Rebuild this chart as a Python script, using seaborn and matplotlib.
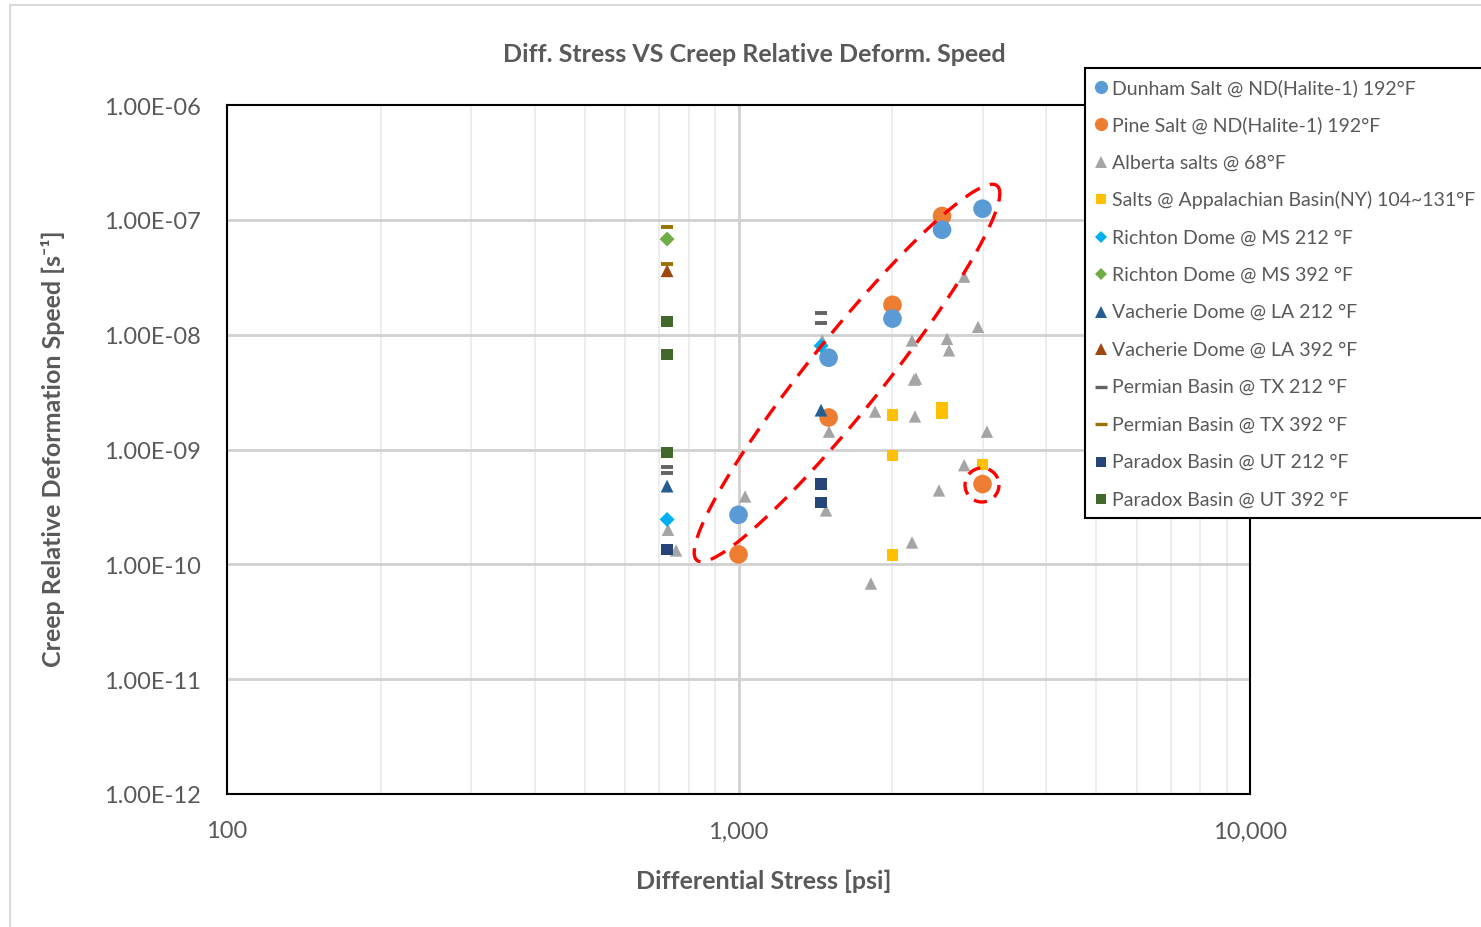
import numpy as np
import matplotlib
matplotlib.use("Agg")
import matplotlib.pyplot as plt
from matplotlib.lines import Line2D
from matplotlib.patches import Rectangle
from matplotlib.ticker import FixedLocator, NullLocator, NullFormatter
import seaborn as sns

# ---------------- data ----------------
dunham_x = [1000, 1500, 2000, 2500, 3000]
dunham_y = [2.7e-10, 6.3e-9, 1.38e-8, 8.2e-8, 1.25e-7]
pine_x = [1000, 1500, 2000, 2500, 3000]
pine_y = [1.22e-10, 1.9e-9, 1.82e-8, 1.08e-7, 5.0e-10]
alberta_x = [728, 755, 1030, 1503, 1483, 1458, 1815, 1849, 2184, 2204, 2223,
             2213, 2184, 2466, 2557, 2580, 2762, 2762, 2940, 3060]
alberta_y = [2.0e-10, 1.32e-10, 3.9e-10, 1.43e-9, 2.95e-10, 8.9e-9, 6.8e-11,
             2.14e-9, 8.9e-9, 4.06e-9, 4.14e-9, 1.94e-9, 1.55e-10, 4.4e-10,
             9.2e-9, 7.3e-9, 3.2e-8, 7.3e-10, 1.17e-8, 1.43e-9]
appal_x = [2000, 2000, 2000, 2500, 2500, 3000]
appal_y = [2.0e-9, 8.9e-10, 1.2e-10, 2.32e-9, 2.06e-9, 7.4e-10]
richton212_x = [725, 1450]
richton212_y = [2.46e-10, 8.0e-9]
richton392_x = [725]
richton392_y = [6.8e-8]
vacherie212_x = [725, 1450]
vacherie212_y = [4.8e-10, 2.2e-9]
vacherie392_x = [725]
vacherie392_y = [3.6e-8]
permian212_x = [725, 725, 1450, 1450]
permian212_y = [7.1e-10, 6.3e-10, 1.55e-8, 1.27e-8]
permian392_x = [725, 725]
permian392_y = [8.7e-8, 4.1e-8]
paradox212_x = [725, 1450, 1450]
paradox212_y = [1.35e-10, 5.0e-10, 3.46e-10]
paradox392_x = [725, 725, 725]
paradox392_y = [1.3e-8, 6.7e-9, 9.4e-10]

series_labels = [
    "Dunham Salt @ ND(Halite-1) 192°F",
    "Pine Salt @ ND(Halite-1) 192°F",
    "Alberta salts @ 68°F",
    "Salts @ Appalachian Basin(NY) 104~131°F",
    "Richton Dome @ MS 212 °F",
    "Richton Dome @ MS 392 °F",
    "Vacherie Dome @ LA 212 °F",
    "Vacherie Dome @ LA 392 °F",
    "Permian Basin @ TX 212 °F",
    "Permian Basin @ TX 392 °F",
    "Paradox Basin @ UT 212 °F",
    "Paradox Basin @ UT 392 °F",
]
y_tick_values = [1e-12, 1e-11, 1e-10, 1e-9, 1e-8, 1e-7, 1e-6]
y_tick_labels = ["1.00E-12", "1.00E-11", "1.00E-10", "1.00E-09",
                 "1.00E-08", "1.00E-07", "1.00E-06"]
x_tick_values = [100, 1000, 10000]
x_tick_labels = ["100", "1,000", "10,000"]

# ---------------- style ----------------
sns.set_style("white")
plt.rcParams["font.family"] = ["Lato", "DejaVu Sans"]
TXT = "#595959"

W, H = 1481, 928
fig = plt.figure(figsize=(W / 100, H / 100), dpi=100)
fig.patch.set_facecolor("white")

def px_box(l, t, r, b):
    return [l / W, 1 - b / H, (r - l) / W, (b - t) / H]

# outer chart border
fig.patches.append(Rectangle((10 / W, -0.01), 1.0, 1 - 6 / H + 0.01,
                             transform=fig.transFigure, facecolor="none",
                             edgecolor="#d9d9d9", linewidth=1.5, zorder=-5))

ax = fig.add_axes(px_box(227, 106, 1250, 795))
ax.set_xscale("log")
ax.set_yscale("log")
ax.set_xlim(100, 10000)
ax.set_ylim(1e-12, 1e-6)

# grid
for v in [200, 300, 400, 500, 600, 700, 800, 900,
          2000, 3000, 4000, 5000, 6000, 7000, 8000, 9000]:
    ax.axvline(v, color="#ececec", lw=1.3, zorder=0.5)
ax.axvline(1000, color="#d0d0d0", lw=2, zorder=0.6)
for v in y_tick_values[1:-1]:
    ax.axhline(v, color="#d0d0d0", lw=2, zorder=0.6)

# ---------------- series ----------------
specs = [
    (pine_x, pine_y, "o", "#ED7D31", 180),
    (dunham_x, dunham_y, "o", "#5B9BD5", 180),
    (alberta_x, alberta_y, "^", "#A5A5A5", 80),
    (appal_x, appal_y, "s", "#FFC000", 70),
    (richton212_x, richton212_y, "D", "#00B0F0", 58),
    (richton392_x, richton392_y, "D", "#70AD47", 58),
    (vacherie212_x, vacherie212_y, "^", "#255E91", 85),
    (vacherie392_x, vacherie392_y, "^", "#9E480E", 85),
    (paradox212_x, paradox212_y, "s", "#264478", 70),
    (paradox392_x, paradox392_y, "s", "#43682B", 70),
]
for xs, ys, m, c, s in specs:
    sns.scatterplot(x=xs, y=ys, marker=m, color=c, s=s, edgecolor="none",
                    linewidth=0, ax=ax, zorder=3, legend=False)
for xs, ys, c in [(permian212_x, permian212_y, "#636363"),
                  (permian392_x, permian392_y, "#997300")]:
    sns.scatterplot(x=xs, y=ys, marker="_", color=c, s=70, linewidth=2.8,
                    ax=ax, zorder=3, legend=False)

# ---------------- axes ----------------
for sp in ax.spines.values():
    sp.set_color("black")
    sp.set_linewidth(1.5)
    sp.set_visible(True)
ax.xaxis.set_major_locator(FixedLocator(x_tick_values))
ax.xaxis.set_minor_locator(NullLocator())
ax.xaxis.set_minor_formatter(NullFormatter())
ax.set_xticklabels(x_tick_labels)
ax.yaxis.set_major_locator(FixedLocator(y_tick_values))
ax.yaxis.set_minor_locator(NullLocator())
ax.yaxis.set_minor_formatter(NullFormatter())
ax.set_yticklabels(y_tick_labels)
ax.tick_params(axis="x", which="major", direction="inout", length=14,
               width=1.5, color="black", labelsize=17, labelcolor=TXT, pad=12)
ax.tick_params(axis="y", which="major", length=0, labelsize=17,
               labelcolor=TXT, pad=19)
ax.grid(False)

ax.set_xlabel("Differential Stress [psi]", fontsize=18, fontweight="bold",
              color=TXT)
ax.xaxis.set_label_coords((764 - 227) / 1023, -(881 - 795) / 689)
ax.xaxis.label.set_va("center")
ax.set_ylabel("Creep Relative Deformation Speed [s⁻¹]", fontsize=18,
              fontweight="bold", color=TXT)
ax.yaxis.set_label_coords(-(227 - 53) / 1023, (795 - 449) / 689)
ax.yaxis.label.set_va("center")
fig.text(754 / W, 1 - 54 / H, "Diff. Stress VS Creep Relative Deform. Speed",
         ha="center", va="center", fontsize=18, fontweight="bold", color=TXT)

# ---------------- red dashed annotations ----------------
def pix_to_data(px, py):
    disp = np.column_stack([px, H - np.asarray(py)])
    return ax.transData.inverted().transform(disp)

phi = np.linspace(0, 2 * np.pi, 400)
cx, cy, a, b, th = 847, 374, 240, 37, np.deg2rad(51.3)
ux, uy = np.cos(th), -np.sin(th)
nx, ny = np.sin(th), np.cos(th)
ex = cx + a * np.cos(phi) * ux + b * np.sin(phi) * nx
ey = cy + a * np.cos(phi) * uy + b * np.sin(phi) * ny
d = pix_to_data(ex, ey)
ax.plot(d[:, 0], d[:, 1], color="#FF0000", lw=2.4, dashes=(5, 3.2), zorder=5)

ccx, ccy, r = 982, 486, 17
d2 = pix_to_data(ccx + r * np.cos(phi), ccy + r * np.sin(phi))
ax.plot(d2[:, 0], d2[:, 1], color="#FF0000", lw=2.4, dashes=(4, 2.5), zorder=5)

# ---------------- legend ----------------
fig.patches.append(Rectangle((1085 / W, 1 - 519 / H), (1500 - 1085) / W,
                             (519 - 69) / H, transform=fig.transFigure,
                             facecolor="white", edgecolor="black",
                             linewidth=1.5, zorder=10))
leg_markers = [
    ("o", "#5B9BD5", 9.5), ("o", "#ED7D31", 9.5), ("^", "#A5A5A5", 8),
    ("s", "#FFC000", 7.5), ("D", "#00B0F0", 6.5), ("D", "#70AD47", 6.5),
    ("^", "#255E91", 8), ("^", "#9E480E", 8), ("_", "#636363", 8),
    ("_", "#997300", 8), ("s", "#264478", 7.5), ("s", "#43682B", 7.5),
]
for i, (lab, (m, c, ms)) in enumerate(zip(series_labels, leg_markers)):
    yy = 1 - (88 + i * 37.45) / H
    ln = Line2D([1101 / W], [yy], marker=m, color=c, markersize=ms,
                linestyle="none", markeredgewidth=2.4 if m == "_" else 0,
                transform=fig.transFigure, zorder=11)
    fig.add_artist(ln)
    fig.text(1112 / W, yy, lab, ha="left", va="center", fontsize=14,
             color=TXT, zorder=11)

fig.savefig("out.png", dpi=100, facecolor=fig.get_facecolor())
